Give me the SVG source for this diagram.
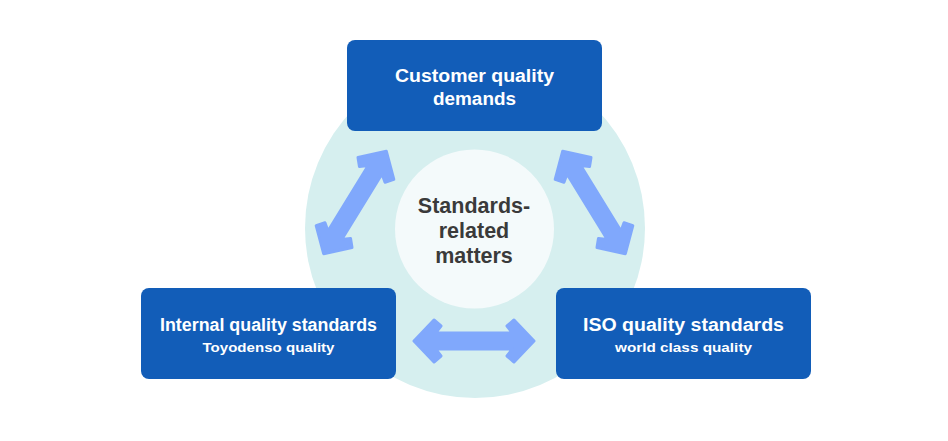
<svg xmlns="http://www.w3.org/2000/svg" width="948" height="441" viewBox="0 0 948 441">
<defs>
<style>
.box{fill:#125db8}
.t{font-family:"Liberation Sans",Arial,sans-serif;font-weight:bold;fill:#ffffff;text-anchor:middle}
.h{font-size:18px}
.s{font-size:13.5px}
.c{font-family:"Liberation Sans",Arial,sans-serif;font-weight:bold;fill:#3a3a3a;font-size:21.5px;text-anchor:middle}
.arr{fill:#80a8fc;stroke:#80a8fc;stroke-width:3;stroke-linejoin:round}
</style>
<polygon id="dbl" points="-60,0 -40,-21 -33,-15 -38.5,-8 38.5,-8 33,-15 40,-21 60,0 40,21 33,15 38.5,8 -38.5,8 -33,15 -40,21"/>
</defs>
<rect width="948" height="441" fill="#ffffff"/>
<g id="background">
<circle cx="475" cy="228" r="170" fill="#d6efef"/>
</g>
<g id="center">
<circle cx="474.5" cy="229" r="79.5" fill="#f4fafb"/>
<text class="c" x="474" y="213">Standards-</text>
<text class="c" x="474" y="238">related</text>
<text class="c" x="474" y="263">matters</text>
</g>
<g id="connectors">
<use href="#dbl" class="arr" transform="translate(355,202.5) rotate(-58.5)"/>
<use href="#dbl" class="arr" transform="translate(594,202.5) rotate(58.5)"/>
<use href="#dbl" class="arr" transform="translate(474,341)"/>
</g>
<g id="customer">
<rect class="box" x="347" y="40" width="255" height="91" rx="8"/>
<text class="t h" x="474.5" y="82" textLength="159" lengthAdjust="spacingAndGlyphs">Customer quality</text>
<text class="t h" x="474.5" y="105" textLength="83" lengthAdjust="spacingAndGlyphs">demands</text>
</g>
<g id="internal">
<rect class="box" x="141" y="288" width="255" height="91" rx="8"/>
<text class="t h" x="268.5" y="331" textLength="217" lengthAdjust="spacingAndGlyphs">Internal quality standards</text>
<text class="t s" x="268.5" y="352" textLength="132" lengthAdjust="spacingAndGlyphs">Toyodenso quality</text>
</g>
<g id="iso">
<rect class="box" x="556" y="288" width="255" height="91" rx="8"/>
<text class="t h" x="683.5" y="331" textLength="201" lengthAdjust="spacingAndGlyphs">ISO quality standards</text>
<text class="t s" x="683.5" y="352" textLength="137" lengthAdjust="spacingAndGlyphs">world class quality</text>
</g>
</svg>
